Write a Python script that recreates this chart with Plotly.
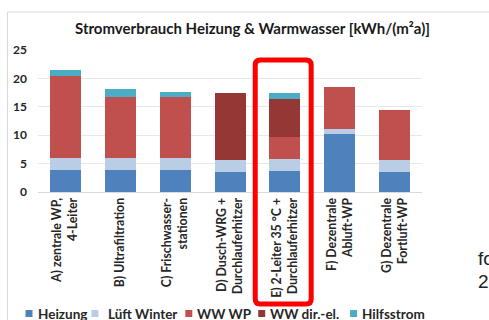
import plotly.graph_objects as go

# Categories (variants) and stacked consumption per component [kWh/(m²a)]
categories = [
    "A) zentrale WP,<br>4-Leiter",
    "B) Ultrafiltration",
    "C) Frischwasser-<br>stationen",
    "D) Dusch-WRG +<br>Durchlauferhitzer",
    "E) 2-Leiter 35 °C +<br>Durchlauferhitzer",
    "F) Dezentrale<br>Abluft-WP",
    "G) Dezentrale<br>Fortluft-WP",
]
heizung = [3.9, 3.9, 3.8, 3.6, 3.75, 10.2, 3.6]
lueft_winter = [2.1, 2.1, 2.1, 2.1, 2.1, 0.9, 2.1]
ww_wp = [14.5, 10.8, 10.8, 0.0, 3.9, 7.3, 8.7]
ww_dir_el = [0.0, 0.0, 0.0, 11.8, 6.7, 0.0, 0.0]
hilfsstrom = [1.0, 1.4, 0.95, 0.0, 1.05, 0.0, 0.0]

series_names = ["Heizung", "Lüft Winter", "WW WP", "WW dir.-el.", "Hilfsstrom"]
series_values = [heizung, lueft_winter, ww_wp, ww_dir_el, hilfsstrom]
series_colors = ["#4F81BD", "#B9CDE5", "#C0504D", "#953735", "#4BACC6"]

y_ticks = [0, 5, 10, 15, 20, 25]
title_text = "Stromverbrauch Heizung & Warmwasser [kWh/(m²a)]"
highlight_index = 4

W, H = 489, 320
ML, MR, MT, MB = 37.5, 67, 50, 128
plot_w = W - ML - MR
plot_h = H - MT - MB

def px_x(p):
    return (p - ML) / plot_w

def px_y(p):
    return (H - MB - p) / plot_h

fig = go.Figure()
for name, vals, col in zip(series_names, series_values, series_colors):
    fig.add_trace(go.Bar(
        x=categories, y=vals, name=name,
        marker=dict(color=col, line=dict(width=0)),
        showlegend=False,
    ))

text_col = "#262626"
font_b = "Lato"

fig.update_layout(
    width=W, height=H,
    barmode="stack", bargap=0.435,
    margin=dict(l=ML, r=MR, t=MT, b=MB, pad=0),
    paper_bgcolor="white", plot_bgcolor="white",
    xaxis=dict(
        tickangle=-90, showgrid=False, showline=True, linecolor="#D9D9D9",
        linewidth=1, ticks="", zeroline=False,
        tickfont=dict(family=font_b, size=12.3, color=text_col, weight="bold"),
    ),
    yaxis=dict(
        range=[0, 25], tickvals=y_ticks, showgrid=True, gridcolor="#E8E8E8",
        gridwidth=1, zeroline=False, showline=False, ticks="",
        tickfont=dict(family=font_b, size=12, color=text_col, weight="bold"),
        ticklabelstandoff=10,
    ),
)

# Title
fig.add_annotation(
    text=title_text, xref="paper", yref="paper",
    x=px_x(252), y=px_y(28), xanchor="center", yanchor="middle",
    showarrow=False,
    font=dict(family=font_b, size=15, color="#1a1a1a", weight="bold"),
)

# Legend row: coloured square key + series name
legend_key_x = [25, 91, 185, 258, 350]
legend_text_x = [35, 106, 195, 268, 360]
legend_y = 313.5
for name, col, kx, tx in zip(series_names, series_colors, legend_key_x, legend_text_x):
    fig.add_shape(type="rect", xref="paper", yref="paper",
                  x0=px_x(kx), x1=px_x(kx + 7),
                  y0=px_y(legend_y + 3.5), y1=px_y(legend_y - 3.5),
                  fillcolor=col, line=dict(width=0))
    fig.add_annotation(
        text=name, xref="paper", yref="paper", x=px_x(tx), y=px_y(legend_y),
        xanchor="left", yanchor="middle", showarrow=False,
        font=dict(family=font_b, size=13.5, color=text_col, weight="bold"),
    )

# Highlight frame around variant E (rounded corners)
x0, x1 = highlight_index - 0.54, highlight_index + 0.48
y0, y1 = px_y(304), px_y(60)
rx, ry = 0.09, 5 / plot_h
path = (
    f"M {x0 + rx},{y1} L {x1 - rx},{y1} Q {x1},{y1} {x1},{y1 - ry} "
    f"L {x1},{y0 + ry} Q {x1},{y0} {x1 - rx},{y0} "
    f"L {x0 + rx},{y0} Q {x0},{y0} {x0},{y0 + ry} "
    f"L {x0},{y1 - ry} Q {x0},{y1} {x0 + rx},{y1} Z"
)
fig.add_shape(type="path", path=path, xref="x", yref="paper",
              line=dict(color="#FF0000", width=5))

# Outer chart frame
fig.add_shape(type="rect", xref="paper", yref="paper",
              x0=px_x(7), x1=px_x(520), y0=px_y(340), y1=px_y(12),
              line=dict(color="#D9D9D9", width=1), layer="below")

# Neighbouring slide text at the right edge
for txt, yy in [("fo", 258), ("2", 281)]:
    fig.add_annotation(
        text=txt, xref="paper", yref="paper", x=px_x(476), y=px_y(yy),
        xanchor="left", yanchor="middle", showarrow=False,
        font=dict(family="Liberation Sans", size=19, color="#222222"),
    )

fig.write_html("out.html")
